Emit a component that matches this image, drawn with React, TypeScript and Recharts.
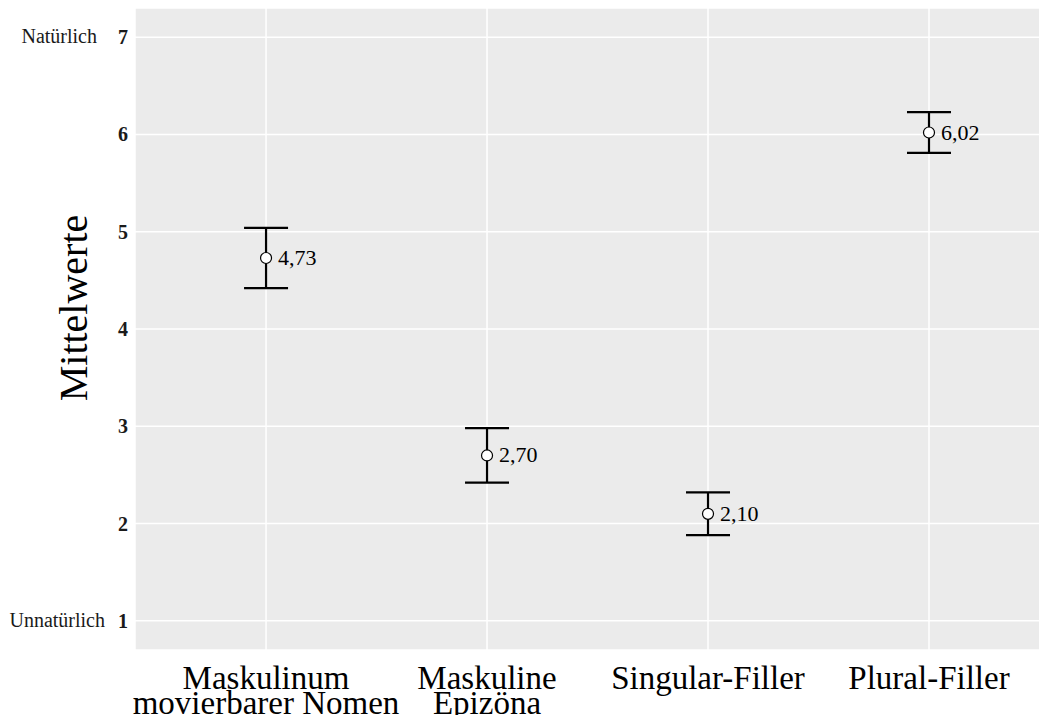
import React from "react";
import {
  ComposedChart,
  Scatter,
  ErrorBar,
  XAxis,
  YAxis,
  CartesianGrid,
  LabelList,
} from "recharts";

const categories = [
  ["Maskulinum", "movierbarer Nomen"],
  ["Maskuline", "Epizöna"],
  ["Singular-Filler"],
  ["Plural-Filler"],
];
const means = [4.73, 2.7, 2.1, 6.02];
const upper = [5.04, 2.98, 2.32, 6.23];
const lower = [4.42, 2.42, 1.88, 5.81];
const yTicks = [1, 2, 3, 4, 5, 6, 7];
const yTickWords: Record<number, string> = { 7: "Natürlich", 1: "Unnatürlich" };

const data = means.map((m, i) => ({
  x: i + 1,
  y: m,
  err: [m - lower[i], upper[i] - m],
}));

const FONT = "'Liberation Serif', 'DejaVu Serif', serif";

const YTick = (props: any) => {
  const { x, y, payload } = props;
  const word = yTickWords[payload.value];
  // the longer word sits a little further right in the original
  const wordEnd = payload.value === 1 ? x - 22 : x - 30;
  return (
    <g>
      <text
        x={x + 1}
        y={y}
        dy={7}
        textAnchor="end"
        fontFamily={FONT}
        fontSize={20}
        fontWeight="bold"
        fill="#1a1a1a"
      >
        {payload.value}
      </text>
      {word && (
        <text
          x={wordEnd}
          y={y}
          dy={6}
          textAnchor="end"
          fontFamily={FONT}
          fontSize={20}
          fill="#1a1a1a"
        >
          {word}
        </text>
      )}
    </g>
  );
};

const XTick = (props: any) => {
  const { x, y, payload } = props;
  const lines = categories[payload.value - 1] || [];
  return (
    <text
      x={x}
      y={y}
      textAnchor="middle"
      fontFamily={FONT}
      fontSize={33}
      fill="#000"
    >
      {lines.map((l, i) => (
        <tspan key={i} x={x} dy={i === 0 ? 31 : 25}>
          {l}
        </tspan>
      ))}
    </text>
  );
};

const YLabel = (props: any) => {
  const { viewBox } = props;
  const cx = 73;
  const cy = viewBox ? viewBox.y + viewBox.height / 2 - 21 : 308;
  return (
    <text
      x={cx}
      y={cy}
      transform={`rotate(-90, ${cx}, ${cy})`}
      textAnchor="middle"
      dominantBaseline="central"
      fontFamily={FONT}
      fontSize={40}
      fill="#000"
    >
      Mittelwerte
    </text>
  );
};

const Dot = (props: any) => (
  <circle cx={props.cx} cy={props.cy} r={5.5} fill="#fff" stroke="#000" strokeWidth={1.2} />
);

const ValueLabel = (props: any) => {
  const { x, y, width, height, value } = props;
  const cx = x + (width || 0) / 2;
  const cy = y + (height || 0) / 2;
  return (
    <text
      x={cx + 12}
      y={cy}
      dy={7}
      fontFamily={FONT}
      fontSize={22}
      fill="#000"
    >
      {Number(value).toFixed(2).replace(".", ",")}
    </text>
  );
};

export default function App() {
  return (
    <div style={{ margin: -8, background: "#fff" }}>
      <ComposedChart
        width={1047}
        height={723}
        data={data}
        margin={{ top: 8, right: 0, bottom: 0, left: 0 }}
      >
        <CartesianGrid fill="#EBEBEB" stroke="#FFFFFF" strokeWidth={1.5} />
        <XAxis
          type="number"
          dataKey="x"
          domain={[0.407, 4.534]}
          ticks={[1, 2, 3, 4]}
          allowDataOverflow
          axisLine={false}
          tickLine={false}
          height={73}
          tick={<XTick />}
        />
        <YAxis
          type="number"
          dataKey="y"
          domain={[0.7, 7.3]}
          ticks={yTicks}
          allowDataOverflow
          axisLine={false}
          tickLine={false}
          width={135}
          tick={<YTick />}
          label={<YLabel />}
        />
        <Scatter dataKey="y" shape={<Dot />} isAnimationActive={false}>
          <ErrorBar dataKey="err" direction="y" width={22} stroke="#000" strokeWidth={2.2} />
          <LabelList dataKey="y" content={<ValueLabel />} />
        </Scatter>
      </ComposedChart>
    </div>
  );
}
